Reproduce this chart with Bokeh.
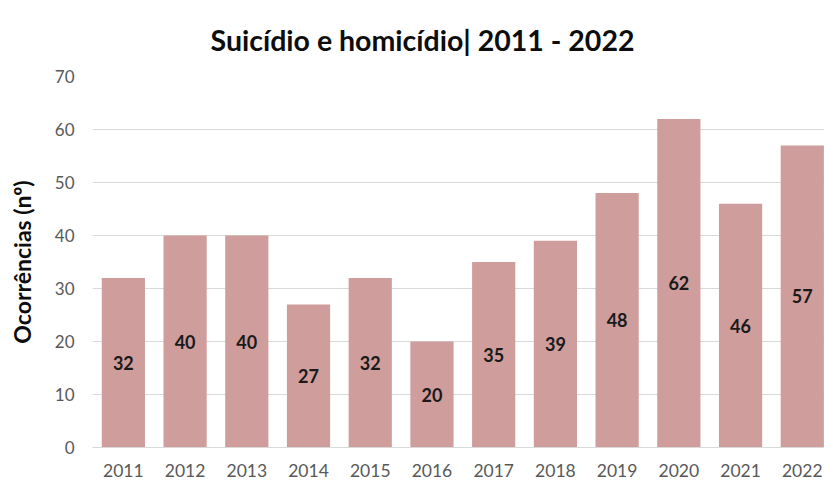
from bokeh.plotting import figure
from bokeh.models import Range1d, FixedTicker, ColumnDataSource, LabelSet, Title
from bokeh.core.properties import value
from bokeh.embed import file_html
from bokeh.resources import INLINE

years = ["2011", "2012", "2013", "2014", "2015", "2016", "2017", "2018", "2019", "2020", "2021", "2022"]
values = [32, 40, 40, 27, 32, 20, 35, 39, 48, 62, 46, 57]
y_ticks = [0, 10, 20, 30, 40, 50, 60, 70]
title_text = "Suicídio e homicídio| 2011 - 2022"
y_label = "Ocorrências (nº)"

FONT = "Lato"
BAR = "#cf9d9c"

idx = list(range(len(years)))
src = ColumnDataSource(dict(x=idx, top=values, mid=[v / 2 for v in values], lab=[str(v) for v in values]))

p = figure(width=824, height=481, output_backend="svg", toolbar_location=None,
           x_range=Range1d(-0.5, 11.36), y_range=Range1d(0, 70),
           min_border_left=92, min_border_right=0, min_border_top=74, min_border_bottom=34)
p.outline_line_color = None
p.background_fill_color = "white"
p.border_fill_color = "white"

p.vbar(x="x", top="top", width=0.7, source=src, fill_color=BAR, line_color=None)

p.add_layout(LabelSet(x="x", y="mid", text="lab", source=src, text_align="center",
                      text_baseline="middle", text_font=value(FONT), text_font_style="bold",
                      text_font_size="18px", text_color="#1a1a1a"))

p.xgrid.visible = False
p.ygrid.grid_line_color = "#d9d9d9"
p.ygrid.grid_line_width = 1

p.yaxis.ticker = FixedTicker(ticks=y_ticks)
p.yaxis.axis_line_color = None
p.yaxis.major_tick_line_color = None
p.yaxis.minor_tick_line_color = None
p.yaxis.major_label_text_font = FONT
p.yaxis.major_label_text_font_size = "17px"
p.yaxis.major_label_text_color = "#595959"
p.yaxis.major_label_standoff = 12
p.yaxis.axis_label = y_label
p.yaxis.axis_label_text_font = FONT
p.yaxis.axis_label_text_font_style = "bold"
p.yaxis.axis_label_text_font_size = "23px"
p.yaxis.axis_label_text_color = "#0d0d0d"
p.yaxis.axis_label_standoff = 16

p.xaxis.ticker = FixedTicker(ticks=idx)
p.xaxis.major_label_overrides = {i: y for i, y in zip(idx, years)}
p.xaxis.axis_line_color = "#d9d9d9"
p.xaxis.major_tick_line_color = None
p.xaxis.minor_tick_line_color = None
p.xaxis.major_label_text_font = FONT
p.xaxis.major_label_text_font_size = "17.5px"
p.xaxis.major_label_text_color = "#595959"
p.xaxis.major_label_standoff = 10

p.add_layout(Title(text=title_text, align="left", offset=118, standoff=40,
                   text_font=FONT, text_font_style="bold", text_font_size="28.5px",
                   text_color="#0d0d0d"), "above")

open("out.html", "w").write(file_html(p, INLINE))
